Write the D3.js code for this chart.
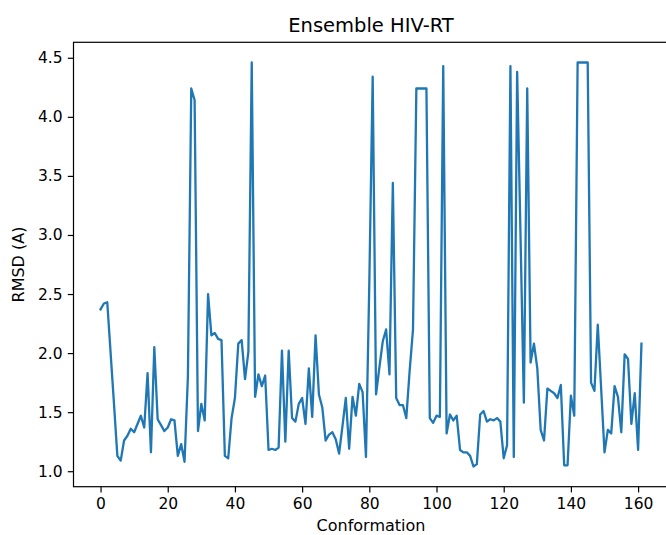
<!DOCTYPE html>
<html>
<head>
<meta charset="utf-8">
<script src="https://cdn.jsdelivr.net/npm/d3@7"></script>
<style>
  html, body { margin: 0; padding: 0; background: #ffffff; }
  svg { display: block; }
  text { font-family: "DejaVu Sans", sans-serif; fill: #000; }
</style>
</head>
<body>
<div id="chart"></div>
<script>
const chartTitle = "Ensemble HIV-RT";
const xLabel = "Conformation";
const yLabel = "RMSD (A)";
const xTicks = [0, 20, 40, 60, 80, 100, 120, 140, 160];
const yTicks = [1.0, 1.5, 2.0, 2.5, 3.0, 3.5, 4.0, 4.5];

// RMSD per conformation (index 0..161)
const rmsd = [
  2.37, 2.42, 2.43, 2.00, 1.57, 1.13, 1.09, 1.26, 1.30, 1.36,
  1.33, 1.40, 1.47, 1.37, 1.83, 1.16, 2.05, 1.44, 1.39, 1.34,
  1.37, 1.44, 1.43, 1.13, 1.23, 1.08, 1.80, 4.24, 4.14, 1.34,
  1.57, 1.43, 2.50, 2.15, 2.17, 2.12, 2.11, 1.13, 1.11, 1.45,
  1.62, 2.08, 2.11, 1.78, 2.01, 4.46, 1.63, 1.82, 1.72, 1.81,
  1.18, 1.19, 1.18, 1.20, 2.02, 1.25, 2.02, 1.45, 1.42, 1.57,
  1.62, 1.40, 1.87, 1.46, 2.15, 1.65, 1.54, 1.26, 1.31, 1.33,
  1.27, 1.15, 1.38, 1.62, 1.19, 1.63, 1.47, 1.74, 1.67, 1.12,
  2.60, 4.34, 1.65, 1.88, 2.10, 2.20, 1.82, 3.44, 1.62, 1.56,
  1.56, 1.45, 1.85, 2.20, 4.24, 4.24, 4.24, 4.24, 1.45, 1.41,
  1.47, 1.46, 4.43, 1.32, 1.48, 1.43, 1.47, 1.18, 1.16, 1.16,
  1.13, 1.04, 1.06, 1.48, 1.51, 1.42, 1.44, 1.43, 1.45, 1.42,
  1.11, 1.22, 4.43, 1.12, 4.38, 3.00, 1.58, 4.24, 1.92, 2.08,
  1.87, 1.35, 1.26, 1.70, 1.68, 1.66, 1.62, 1.73, 1.05, 1.05,
  1.64, 1.47, 4.46, 4.46, 4.46, 4.46, 1.75, 1.68, 2.24, 1.70,
  1.16, 1.35, 1.32, 1.72, 1.63, 1.33, 1.99, 1.95, 1.40, 1.66,
  1.18, 2.08
];
const conformations = rmsd.map((_, i) => i);

const W = 666, H = 535;
const mLeft = 73.5, mRight = 668.5, mTop = 42.3, mBottom = 486.7;
const tickFont = "15.5px", labelFont = "16px", titleFont = "19.5px";

const svg = d3.select("#chart").append("svg")
  .attr("width", W).attr("height", H);

// matplotlib-like 5% margins
const xMin = d3.min(conformations), xMax = d3.max(conformations);
const yMin = d3.min(rmsd), yMax = d3.max(rmsd);
const xm = (xMax - xMin) * 0.05, ym = (yMax - yMin) * 0.05;

const x = d3.scaleLinear().domain([xMin - xm, xMax + xm]).range([mLeft, mRight]);
const y = d3.scaleLinear().domain([yMin - ym, yMax + ym]).range([mBottom, mTop]);

const line = d3.line().x((d, i) => x(conformations[i])).y(d => y(d));

svg.append("path")
  .datum(rmsd)
  .attr("d", line)
  .attr("fill", "none")
  .attr("stroke", "#1f77b4")
  .attr("stroke-width", 2.3)
  .attr("stroke-linejoin", "round")
  .attr("stroke-linecap", "square");

// axes
const xAxis = d3.axisBottom(x).tickValues(xTicks).tickFormat(d3.format("d"))
  .tickSize(5.7).tickPadding(5.2).tickSizeOuter(0);
const yAxis = d3.axisLeft(y).tickValues(yTicks).tickFormat(d3.format(".1f"))
  .tickSize(5.7).tickPadding(5.2).tickSizeOuter(0);

const gx = svg.append("g").attr("transform", `translate(0,${mBottom})`).call(xAxis);
const gy = svg.append("g").attr("transform", `translate(${mLeft},0)`).call(yAxis);

[gx, gy].forEach(g => {
  g.select(".domain").remove();
  g.selectAll(".tick line").attr("stroke", "#000").attr("stroke-width", 1.2);
  g.selectAll(".tick text").attr("font-size", tickFont)
    .attr("font-family", "DejaVu Sans, sans-serif").attr("fill", "#000");
});

// frame (spines)
svg.append("rect")
  .attr("x", mLeft).attr("y", mTop)
  .attr("width", mRight - mLeft).attr("height", mBottom - mTop)
  .attr("fill", "none").attr("stroke", "#000").attr("stroke-width", 1.2);

// title & labels
svg.append("text")
  .attr("x", (mLeft + mRight) / 2).attr("y", 31.5)
  .attr("text-anchor", "middle").attr("font-size", titleFont)
  .text(chartTitle);

svg.append("text")
  .attr("x", (mLeft + mRight) / 2).attr("y", 530.5)
  .attr("text-anchor", "middle").attr("font-size", labelFont)
  .text(xLabel);

svg.append("text")
  .attr("transform", `translate(23.5,${(mTop + mBottom) / 2}) rotate(-90)`)
  .attr("text-anchor", "middle").attr("font-size", labelFont)
  .text(yLabel);
</script>
</body>
</html>
